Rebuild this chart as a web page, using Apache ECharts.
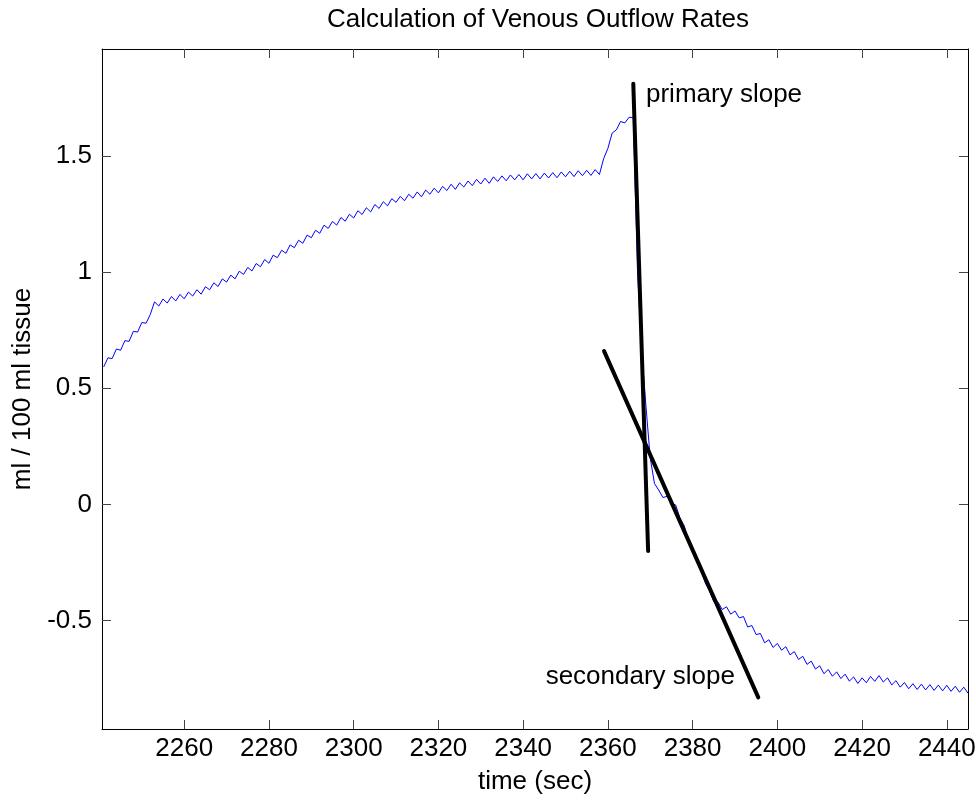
<!DOCTYPE html>
<html>
<head>
<meta charset="utf-8">
<script src="https://cdn.jsdelivr.net/npm/echarts@6/dist/echarts.min.js"></script>
<style>
  html, body { margin: 0; padding: 0; background: #fff; }
  #chart { width: 976px; height: 801px; }
</style>
</head>
<body>
<div id="chart"></div>
<script>
  // volume trace, one sample per second starting at startTime
  const startTime = 2241
  const volume = [
    0.592, 0.631, 0.628, 0.669, 0.664, 0.705, 0.702, 0.745, 0.742, 0.783,
    0.780, 0.818, 0.872, 0.854, 0.884, 0.867, 0.895, 0.876, 0.904, 0.885,
    0.914, 0.897, 0.924, 0.905, 0.937, 0.924, 0.954, 0.938, 0.971, 0.957,
    0.987, 0.971, 1.004, 0.990, 1.020, 1.005, 1.037, 1.023, 1.054, 1.038,
    1.073, 1.062, 1.094, 1.081, 1.117, 1.105, 1.137, 1.124, 1.159, 1.148,
    1.180, 1.167, 1.202, 1.188, 1.218, 1.202, 1.235, 1.219, 1.249, 1.233,
    1.264, 1.248, 1.277, 1.259, 1.291, 1.274, 1.303, 1.285, 1.316, 1.300,
    1.326, 1.307, 1.335, 1.318, 1.345, 1.324, 1.353, 1.335, 1.361, 1.341,
    1.369, 1.351, 1.378, 1.356, 1.384, 1.366, 1.392, 1.372, 1.399, 1.379,
    1.404, 1.382, 1.410, 1.390, 1.414, 1.393, 1.418, 1.397, 1.420, 1.397,
    1.423, 1.401, 1.424, 1.401, 1.426, 1.405, 1.428, 1.406, 1.431, 1.410,
    1.434, 1.411, 1.436, 1.415, 1.438, 1.416, 1.441, 1.420, 1.488, 1.532,
    1.598, 1.612, 1.648, 1.642, 1.666, 1.665, 1.000, 0.660, 0.420, 0.200,
    0.090, 0.062, 0.030, 0.035, 0.005, -0.002, -0.058, -0.090, -0.152, -0.193,
    -0.245, -0.283, -0.338, -0.372, -0.418, -0.420, -0.452, -0.440, -0.472, -0.458,
    -0.488, -0.482, -0.527, -0.521, -0.560, -0.555, -0.595, -0.582, -0.615, -0.598,
    -0.627, -0.612, -0.647, -0.633, -0.667, -0.653, -0.688, -0.674, -0.708, -0.694,
    -0.728, -0.710, -0.739, -0.720, -0.749, -0.730, -0.760, -0.742, -0.770, -0.746,
    -0.767, -0.740, -0.761, -0.736, -0.764, -0.746, -0.776, -0.758, -0.786, -0.766,
    -0.793, -0.771, -0.796, -0.773, -0.798, -0.775, -0.800, -0.777, -0.802, -0.778,
    -0.804, -0.782, -0.808, -0.786, -0.812
  ]

  // hand-drawn slope lines (end points)
  const primaryX = [2366.0, 2369.5]
  const primaryY = [1.81, -0.20]
  const secondaryX = [2359.1, 2395.5]
  const secondaryY = [0.66, -0.83]

  // annotations
  const noteText = ['primary slope', 'secondary slope']
  const noteX = [2369.0, 2390.0]
  const noteY = [1.762, -0.740]

  // axes
  const xTicks = [2260, 2280, 2300, 2320, 2340, 2360, 2380, 2400, 2420, 2440]
  const yTicks = [-0.5, 0, 0.5, 1, 1.5]
  const xRange = [2240.6, 2445]
  const yRange = [-0.966, 1.96]

  const font = 'Liberation Sans, Arial, Helvetica, sans-serif'
  const fs = 26

  const trace = volume.map((v, i) => [startTime + i, v])
  const toPairs = (xs, ys) => xs.map((x, i) => [x, ys[i]])

  const axisBase = (ticks) => ({
    type: 'value',
    axisLine: { show: true, onZero: false, lineStyle: { color: '#000', width: 1 } },
    axisTick: { show: true, inside: true, length: 9, customValues: ticks, lineStyle: { color: '#444' } },
    splitLine: { show: false }
  })

  const chart = echarts.init(document.getElementById('chart'), null, { renderer: 'canvas' })
  chart.setOption({
    animation: false,
    backgroundColor: '#fff',
    textStyle: { fontFamily: font },
    title: {
      text: 'Calculation of Venous Outflow Rates',
      left: 533,
      textAlign: 'center',
      top: 2,
      textStyle: { fontFamily: font, fontSize: fs, fontWeight: 'normal', color: '#000' }
    },
    grid: { left: 102, right: 8, top: 49, bottom: 72, outerBoundsMode: 'none', containLabel: false },
    xAxis: [
      Object.assign(axisBase(xTicks), {
        position: 'bottom',
        min: xRange[0], max: xRange[1],
        name: 'time (sec)',
        nameLocation: 'middle',
        nameGap: 40,
        nameTextStyle: { fontFamily: font, fontSize: fs, color: '#000', verticalAlign: 'top' },
        axisLabel: {
          customValues: xTicks, margin: 7, fontFamily: font, fontSize: fs, color: '#000',
          formatter: v => String(v)
        }
      }),
      Object.assign(axisBase(xTicks), {
        position: 'top',
        min: xRange[0], max: xRange[1],
        axisLabel: { show: false }
      })
    ],
    yAxis: [
      Object.assign(axisBase(yTicks), {
        position: 'left',
        min: yRange[0], max: yRange[1],
        name: 'ml / 100 ml tissue',
        nameLocation: 'middle',
        nameGap: 66,
        nameTextStyle: { fontFamily: font, fontSize: fs, color: '#000' },
        axisLabel: {
          customValues: yTicks, margin: 10, fontFamily: font, fontSize: fs, color: '#000',
          formatter: v => String(v)
        }
      }),
      Object.assign(axisBase(yTicks), {
        position: 'right',
        min: yRange[0], max: yRange[1],
        axisLabel: { show: false }
      })
    ],
    series: [
      {
        type: 'line',
        data: trace,
        showSymbol: false,
        lineStyle: { color: '#0000ff', width: 1 },
        z: 2
      },
      {
        type: 'line',
        data: toPairs(primaryX, primaryY),
        showSymbol: false,
        lineStyle: { color: '#000', width: 4, cap: 'round' },
        z: 3
      },
      {
        type: 'line',
        data: toPairs(secondaryX, secondaryY),
        showSymbol: false,
        lineStyle: { color: '#000', width: 4, cap: 'round' },
        z: 3
      },
      {
        type: 'scatter',
        symbolSize: 0,
        itemStyle: { opacity: 1 },
        data: noteText.map((t, i) => ({
          value: [noteX[i], noteY[i]],
          label: { position: i === 0 ? 'right' : 'left', color: '#000' }
        })),
        label: {
          show: true,
          distance: 0,
          formatter: p => noteText[p.dataIndex],
          fontFamily: font,
          fontSize: fs,
          color: '#000',
          opacity: 1,
          textBorderWidth: 0
        },
        emphasis: { disabled: true },
        z: 4
      }
    ]
  })
</script>
</body>
</html>
